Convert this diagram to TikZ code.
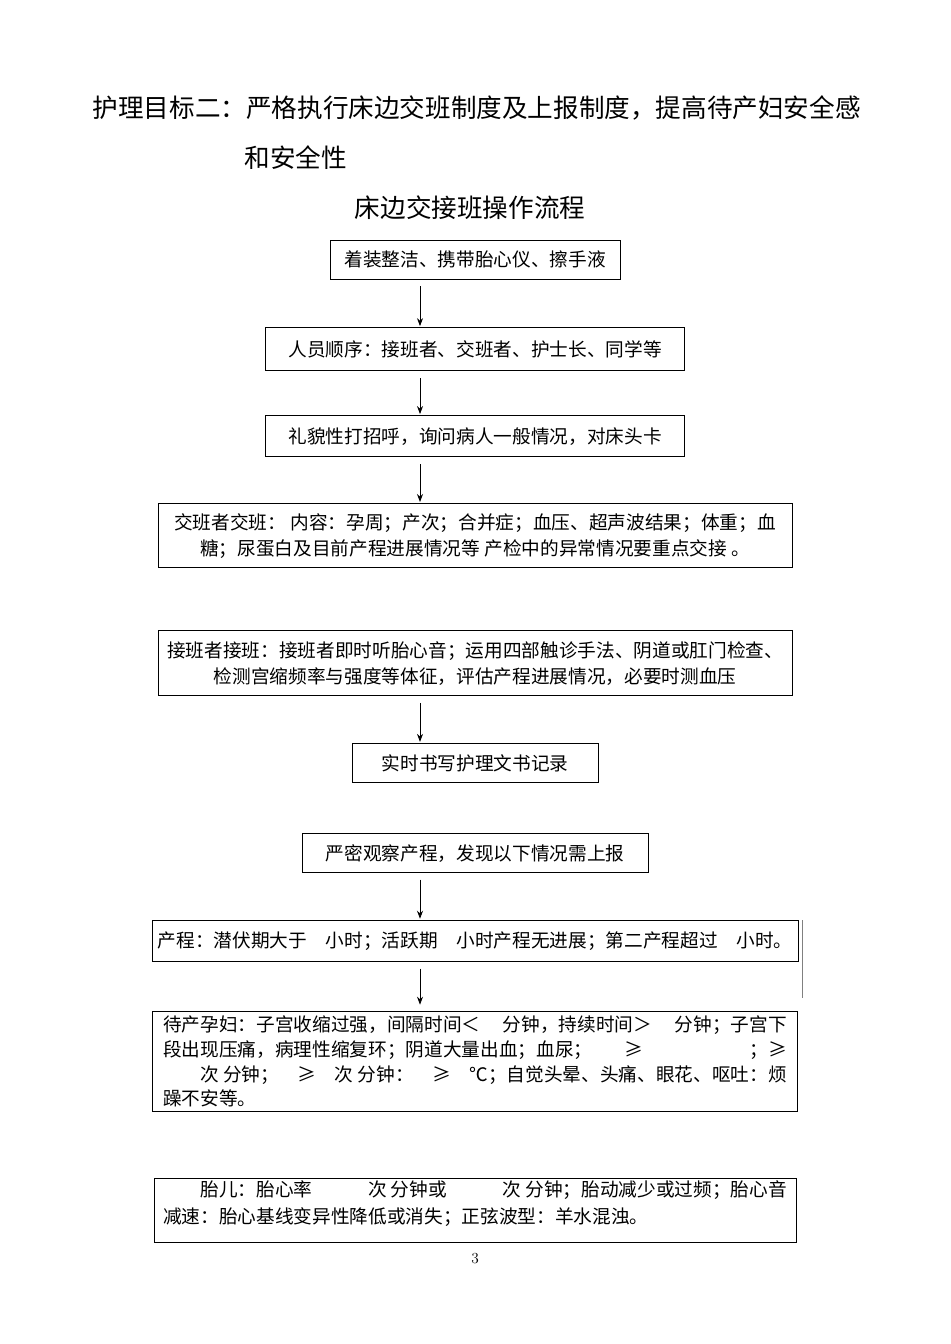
\documentclass[tikz,border=0pt]{standalone}
\usepackage{fontspec}
\newfontfamily\cjk{Noto Sans CJK SC}
\usetikzlibrary{positioning, arrows.meta}

\begin{document}
\begin{tikzpicture}[x=0.75pt, y=-0.75pt,
  box/.style={draw, line width=0.7pt, align=center, inner sep=3pt, font=\cjk\fontsize{14pt}{19.5pt}\selectfont},
  head/.style={font=\cjk\fontsize{19.2pt}{22pt}\selectfont},
  arr/.style={-{Stealth[length=6pt, width=4.5pt]}, line width=0.6pt, shorten <=5pt, shorten >=1pt}]
\useasboundingbox (0,0) rectangle (950,1344);
\node[head, anchor=west] (goal) at (88,108) {护理目标二：严格执行床边交班制度及上报制度，提高待产妇安全感};
\node[head, anchor=west] (goaltail) at (240,158) {和安全性};
\node[head] (title) at (470,208) {床边交接班操作流程};
\node[box, minimum width=217.5pt, minimum height=29.25pt] (dress) at (475,259.5) {着装整洁、携带胎心仪、擦手液};
\node[box, minimum width=314.25pt, minimum height=32.25pt, below=36pt of dress] (staff) {人员顺序：接班者、交班者、护士长、同学等};
\node[box, minimum width=314.25pt, minimum height=30.75pt, below=33pt of staff] (greet) {礼貌性打招呼，询问病人一般情况，对床头卡};
\node[box, minimum width=475.5pt, minimum height=48pt, below=34.5pt of greet] (handover) {交班者交班： 内容：孕周；产次；合并症；血压、超声波结果；体重；血\\糖；尿蛋白及目前产程进展情况等 产检中的异常情况要重点交接 。};
\node[box, minimum width=475.5pt, minimum height=48.75pt, below=46.5pt of handover] (takeover) {接班者接班：接班者即时听胎心音；运用四部触诊手法、阴道或肛门检查、\\检测宫缩频率与强度等体征，评估产程进展情况，必要时测血压};
\node[box, minimum width=184.5pt, minimum height=29.25pt, below=35.25pt of takeover] (record) {实时书写护理文书记录};
\node[box, minimum width=259.5pt, minimum height=29.25pt, below=37.5pt of record] (observe) {严密观察产程，发现以下情况需上报};
\node[box, minimum width=484.5pt, minimum height=30.75pt, below=35.25pt of observe] (labour) {产程：潜伏期大于\quad 小时；活跃期\quad 小时产程无进展；第二产程超过\quad 小时。};
\node[box, minimum width=483.75pt, minimum height=75pt, align=left, font=\cjk\fontsize{14pt}{18.5pt}\selectfont, below=37pt of labour] (mother) {\makebox[468pt]{待产孕妇：子宫收缩过强，间隔时间＜\hfill 分钟，持续时间＞\hfill 分钟；子宫下}\\
  \makebox[468pt]{段出现压痛，病理性缩复环；阴道大量出血；血尿；\hspace{1.7em}≥\hfill ；≥}\\
  \makebox[468pt]{\hspace{2em}次 分钟；\hfill ≥\hfill 次 分钟：\hfill ≥\hfill ℃；自觉头晕、头痛、眼花、呕吐：烦}\\
  躁不安等。};
\node[box, minimum width=481.5pt, minimum height=48pt, inner ysep=0pt, align=left, font=\cjk\fontsize{14pt}{20pt}\selectfont, below=49pt of mother] (fetus) {\makebox[468pt]{\hspace{2em}胎儿：胎心率\hfill 次 分钟或\hfill 次 分钟；胎动减少或过频；胎心音}\\
  减速：胎心基线变异性降低或消失；正弦波型：羊水混浊。\rule[-12pt]{0pt}{12pt}};
\node[font=\fontsize{11.5pt}{13pt}\selectfont] (page) at (475,1259) {3};
\coordinate (ax) at (420,0);
\draw[arr] (dress.south -| ax) -- (staff.north -| ax);
\draw[arr] (staff.south -| ax) -- (greet.north -| ax);
\draw[arr] (greet.south -| ax) -- (handover.north -| ax);
\draw[arr] (takeover.south -| ax) -- (record.north -| ax);
\draw[arr] (observe.south -| ax) -- (labour.north -| ax);
\draw[arr, shorten >=5pt] (labour.south -| ax) -- (mother.north -| ax);
\draw[gray, line width=0.5pt] ([xshift=3pt]labour.north east) -- ++(0,78);
\end{tikzpicture}
\end{document}
